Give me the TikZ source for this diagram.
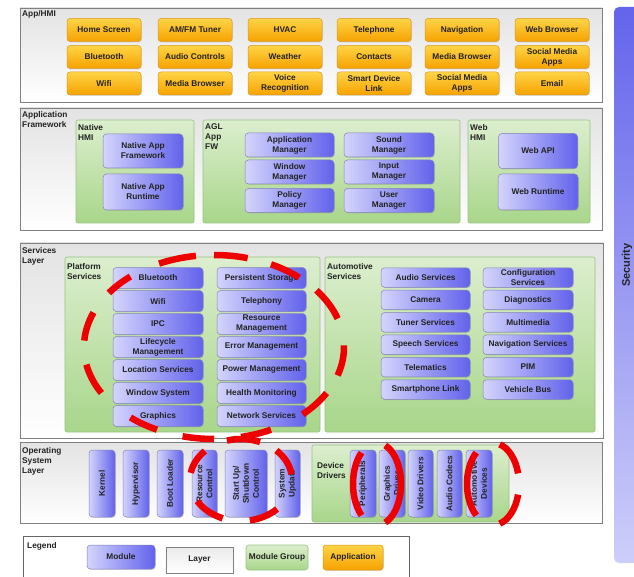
\documentclass[tikz,border=0pt]{standalone}
\usepackage{fontspec}
\setmainfont{Liberation Sans}
\usetikzlibrary{shadows}
\definecolor{modL}{RGB}{212,212,252}
\definecolor{modR}{RGB}{98,98,236}
\definecolor{modB}{RGB}{130,130,185}
\definecolor{grpT}{RGB}{220,238,206}
\definecolor{grpB}{RGB}{168,214,138}
\definecolor{grpD}{RGB}{150,195,130}
\definecolor{appT}{RGB}{255,212,70}
\definecolor{appB}{RGB}{246,162,0}
\definecolor{appD}{RGB}{220,150,30}
\definecolor{txt}{RGB}{35,35,35}
\definecolor{rdc}{RGB}{238,0,0}
\definecolor{secT}{RGB}{100,100,236}
\definecolor{secB}{RGB}{206,206,250}
\newcommand\agfont{\fontsize{8.3}{10}\selectfont\bfseries}
\newcommand\rdash[6]{\draw[reddash] (#1,#2) ++(#5:#3 and #4) arc[start angle=#5,end angle=#6,x radius=#3,y radius=#4];}
\begin{document}
\begin{tikzpicture}[x=1pt,y=-1pt,
  layer/.style={draw=black!50, line width=0.8pt, top color=black!11, bottom color=white},
  group/.style={draw=grpD, line width=0.6pt, rounded corners=2pt, top color=grpT, bottom color=grpB},
  module/.style={draw=modB, line width=0.5pt, rounded corners=3.5pt, left color=modL, right color=modR,
    text=txt, font=\agfont, align=center, inner sep=0pt,
    drop shadow={shadow xshift=0.8pt, shadow yshift=-0.8pt, opacity=0.25}},
  app/.style={draw=appD, line width=0.5pt, rounded corners=3pt, top color=appT, bottom color=appB,
    text=txt, font=\agfont, align=center, inner sep=0pt, minimum width=74, minimum height=23,
    drop shadow={shadow xshift=0.8pt, shadow yshift=-0.8pt, opacity=0.25}},
  lbl/.style={anchor=north west, inner sep=0pt, font=\agfont, align=left, text=txt},
  vlbl/.style={rotate=90, font=\agfont, align=center, text=txt, inner sep=0pt},
  reddash/.style={draw=rdc, line width=6.5pt}
]
\useasboundingbox (0,0) rectangle (634,577);
\clip (0,0) rectangle (634,577);
\fill[white] (0,0) rectangle (634,577);

% Security bar
\shade[top color=secT, bottom color=secB, rounded corners=5pt] (614,7) rectangle (660,563);
\node[rotate=90, font=\fontsize{11}{12}\selectfont\bfseries, text=txt] (sec) at (627,265) {Security};

% ---------- App/HMI layer
\path[layer] (20,8) rectangle (602,102);
\node[lbl] (lapp) at (22,10) {App/HMI};
\node[app] (a11) at (104,30) {Home Screen};
\node[app] (a12) at (195,30) {AM/FM Tuner};
\node[app] (a13) at (285,30) {HVAC};
\node[app] (a14) at (374,30) {Telephone};
\node[app] (a15) at (462,30) {Navigation};
\node[app] (a16) at (552,30) {Web Browser};
\node[app] (a21) at (104,57) {Bluetooth};
\node[app] (a22) at (195,57) {Audio Controls};
\node[app] (a23) at (285,57) {Weather};
\node[app] (a24) at (374,57) {Contacts};
\node[app] (a25) at (462,57) {Media Browser};
\node[app] (a26) at (552,57) {Social Media\\Apps};
\node[app] (a31) at (104,83.5) {Wifi};
\node[app] (a32) at (195,83.5) {Media Browser};
\node[app] (a33) at (285,83.5) {Voice\\Recognition};
\node[app] (a34) at (374,83.5) {Smart Device\\Link};
\node[app] (a35) at (462,83.5) {Social Media\\Apps};
\node[app] (a36) at (552,83.5) {Email};

% ---------- Application Framework layer
\path[layer] (20,108) rectangle (602,230);
\node[lbl] (laf) at (22,111) {Application\\Framework};
\path[group] (76,120) rectangle (194,223);
\node[lbl] (gnh) at (78,124) {Native\\HMI};
\node[module, minimum width=80, minimum height=34] (naf) at (143,151) {Native App\\Framework};
\node[module, minimum width=80, minimum height=36] (nar) at (143,192) {Native App\\Runtime};
\path[group] (203,120) rectangle (460,223);
\node[lbl] (gagl) at (205,124) {AGL\\App\\FW};
\node[module, minimum width=89, minimum height=24] (am) at (289.5,145) {Application\\Manager};
\node[module, minimum width=89, minimum height=24] (wm) at (289.5,172) {Window\\Manager};
\node[module, minimum width=89, minimum height=24] (pm) at (289.5,200.5) {Policy\\Manager};
\node[module, minimum width=90, minimum height=24] (sm) at (389,145) {Sound\\Manager};
\node[module, minimum width=90, minimum height=24] (im) at (389,172) {Input\\Manager};
\node[module, minimum width=90, minimum height=24] (um) at (389,200.5) {User\\Manager};
\path[group] (468,120) rectangle (590,223);
\node[lbl] (gweb) at (470,124) {Web\\HMI};
\node[module, minimum width=79, minimum height=35] (wapi) at (538,151) {Web API};
\node[module, minimum width=80, minimum height=36] (wrt) at (538,192) {Web Runtime};

% ---------- Services layer
\path[layer] (20,243) rectangle (603,438);
\node[lbl] (lsv) at (22,247) {Services\\Layer};
\path[group] (65,257) rectangle (320,432);
\node[lbl] (gps) at (67,263) {Platform\\Services};
\foreach \t [count=\i from 0] in {Bluetooth, Wifi, IPC, {Lifecycle\\Management}, Location Services, Window System, Graphics}
  \node[module, minimum width=90, minimum height=21] (pa\i) at (158,{278+23*\i}) {\t};
\foreach \t [count=\i from 0] in {Persistent Storage, Telephony, {Resource\\Management}, Error Management, Power Management, Health Monitoring, Network Services}
  \node[module, minimum width=89, minimum height=21] (pb\i) at (261.5,{278+23*\i}) {\t};
\path[group] (325,257) rectangle (595,432);
\node[lbl] (gas) at (327,263) {Automotive\\Services};
\foreach \t [count=\i from 0] in {Audio Services, Camera, Tuner Services, Speech Services, Telematics, Smartphone Link}
  \node[module, minimum width=89, minimum height=19.5] (sa\i) at (425.5,{277.5+22.4*\i}) {\t};
\foreach \t [count=\i from 0] in {{Configuration\\Services}, Diagnostics, Multimedia, Navigation Services, PIM, Vehicle Bus}
  \node[module, minimum width=90, minimum height=19.5] (sb\i) at (528,{277.5+22.4*\i}) {\t};

% ---------- Operating System layer
\path[layer] (20,442) rectangle (602,523);
\node[lbl] (los) at (22,447) {Operating\\System\\Layer};
\node[module, minimum width=26, minimum height=67] (k) at (102,483.5) {};
\node[vlbl] at (k) {Kernel};
\node[module, minimum width=26, minimum height=67] (hv) at (136,483.5) {};
\node[vlbl] at (hv) {Hypervisor};
\node[module, minimum width=26, minimum height=67] (bl) at (170,483.5) {};
\node[vlbl] at (bl) {Boot Loader};
\node[module, minimum width=25, minimum height=67] (rc) at (204.5,483.5) {};
\node[vlbl] at (rc) {Resource\\Control};
\node[module, minimum width=42, minimum height=67] (su) at (246,483.5) {};
\node[vlbl] at (su) {Start Up/\\Shutdown\\Control};
\node[module, minimum width=25, minimum height=67] (sys) at (287.5,483.5) {};
\node[vlbl] at (sys) {System\\Update};
\path[group] (312,445) rectangle (509,522);
\node[lbl] (gdd) at (317,462) {Device\\Drivers};
\node[module, minimum width=26, minimum height=67] (per) at (363,483.5) {};
\node[vlbl] at (per) {Peripherals};
\node[module, minimum width=26, minimum height=67] (gd) at (392,483.5) {};
\node[vlbl] at (gd) {Graphics\\Driver};
\node[module, minimum width=25, minimum height=67] (vd) at (420.5,483.5) {};
\node[vlbl] at (vd) {Video Drivers};
\node[module, minimum width=25, minimum height=67] (ac) at (449.5,483.5) {};
\node[vlbl] at (ac) {Audio Codecs};
\node[module, minimum width=26, minimum height=67] (ad) at (479,483.5) {};
\node[vlbl] at (ad) {Automotive\\Devices};

% ---------- Legend
\draw[black!60, line width=0.8pt, fill=white] (23,536) rectangle (409,590);
\node[lbl] (lleg) at (27,542) {Legend};
\node[module, minimum width=68, minimum height=24] (lm) at (121,557) {Module};
\node[draw=black!50, line width=0.6pt, top color=black!8, bottom color=white, minimum width=67, minimum height=26, font=\agfont, text=txt, inner sep=0pt] (ll) at (199.5,560) {Layer};
\node[draw=grpD, line width=0.6pt, rounded corners=3pt, top color=grpT, bottom color=grpB, minimum width=62, minimum height=25, font=\agfont, text=txt, inner sep=0pt] (lg) at (277,557.5) {Module Group};
\node[app, minimum width=60, minimum height=25] (la) at (353,557.5) {Application};

% ---------- red dashed highlights
\foreach \a/\b in {216/230, 245/262, 270/285, 296/311, 322/342, 359/378, 30/47, 64/78, 90/104, 116/130, 150/169, 184/202}
  {\rdash{214}{347}{130}{92}{\a}{\b}}
\foreach \a/\b in {254/292, 314/352, 45/80, 111/149, 190/225}
  {\rdash{241}{480}{51}{41}{\a}{\b}}
\rdash{377}{484}{24}{41}{130}{230}
\rdash{377}{484}{24}{41}{-70}{70}
\rdash{493}{484}{26}{41}{130}{230}
\rdash{493}{484}{26}{41}{15}{75}
\rdash{493}{484}{26}{41}{-75}{-15}
\end{tikzpicture}
\end{document}
